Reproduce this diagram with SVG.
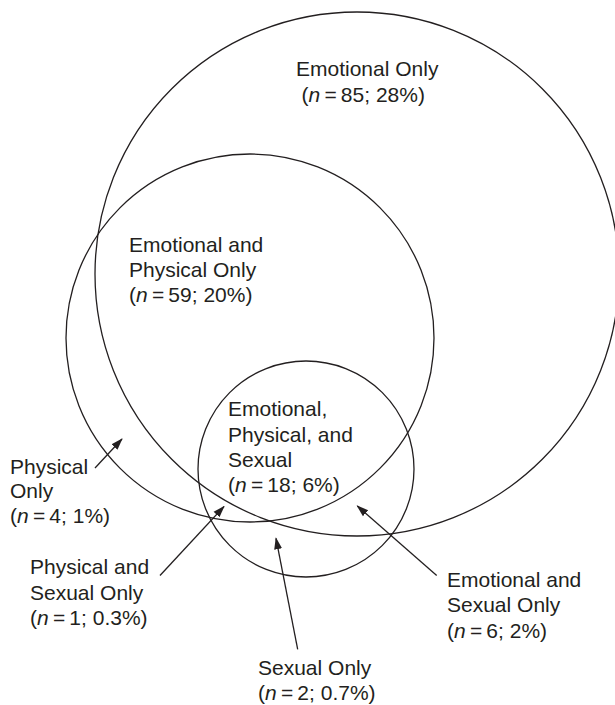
<svg xmlns="http://www.w3.org/2000/svg" width="615" height="705" viewBox="0 0 615 705">
<style>
.c{fill:none;stroke:#231f20;stroke-width:1.3}
.t{font-family:"Liberation Sans",Arial,Helvetica,sans-serif;font-size:21px;fill:#231f20}
.a{fill:none;stroke:#231f20;stroke-width:1.3}
.i{font-style:italic}
</style>
<defs>
<marker id="ah" markerUnits="userSpaceOnUse" markerWidth="12" markerHeight="10" viewBox="0 0 12 10" refX="11" refY="5" orient="auto">
<path d="M0,1 L12,5 L0,9 Z" fill="#231f20"/>
</marker>
</defs>
<rect width="615" height="705" fill="#ffffff"/>
<g id="emotional"><circle class="c" cx="357" cy="274" r="262"/>
<text class="t" x="296" y="76">Emotional Only</text>
<text class="t" x="301.5" y="101.5">(<tspan class="i">n</tspan>&#8201;=&#8201;85; 28%)</text></g>
<g id="physical"><circle class="c" cx="250" cy="338" r="184"/>
<text class="t" x="129" y="252">Emotional and</text>
<text class="t" x="129" y="277">Physical Only</text>
<text class="t" x="129" y="302">(<tspan class="i">n</tspan>&#8201;=&#8201;59; 20%)</text></g>
<g id="sexual"><circle class="c" cx="306" cy="469" r="108"/>
<text class="t" x="228" y="416">Emotional,</text>
<text class="t" x="228" y="441.5">Physical, and</text>
<text class="t" x="228" y="467">Sexual</text>
<text class="t" x="228" y="492">(<tspan class="i">n</tspan>&#8201;=&#8201;18; 6%)</text></g>
<g id="physical-only"><text class="t" x="10" y="473.5">Physical</text>
<text class="t" x="10" y="498">Only</text>
<text class="t" x="10" y="522.5">(<tspan class="i">n</tspan>&#8201;=&#8201;4; 1%)</text></g>
<g id="physical-sexual-only"><text class="t" x="30" y="574">Physical and</text>
<text class="t" x="30" y="599.5">Sexual Only</text>
<text class="t" x="30" y="625">(<tspan class="i">n</tspan>&#8201;=&#8201;1; 0.3%)</text></g>
<g id="emotional-sexual-only"><text class="t" x="447" y="586.5">Emotional and</text>
<text class="t" x="447" y="612">Sexual Only</text>
<text class="t" x="447" y="637.5">(<tspan class="i">n</tspan>&#8201;=&#8201;6; 2%)</text></g>
<g id="sexual-only"><text class="t" x="258" y="675">Sexual Only</text>
<text class="t" x="258" y="700">(<tspan class="i">n</tspan>&#8201;=&#8201;2; 0.7%)</text></g>
<g id="connectors">
<line class="a" x1="95" y1="468" x2="122" y2="439" marker-end="url(#ah)"/>
<line class="a" x1="160" y1="575.5" x2="224" y2="506.5" marker-end="url(#ah)"/>
<line class="a" x1="297.7" y1="649.3" x2="276" y2="538.3" marker-end="url(#ah)"/>
<line class="a" x1="436.7" y1="575.5" x2="357.3" y2="506" marker-end="url(#ah)"/>
</g>
</svg>
